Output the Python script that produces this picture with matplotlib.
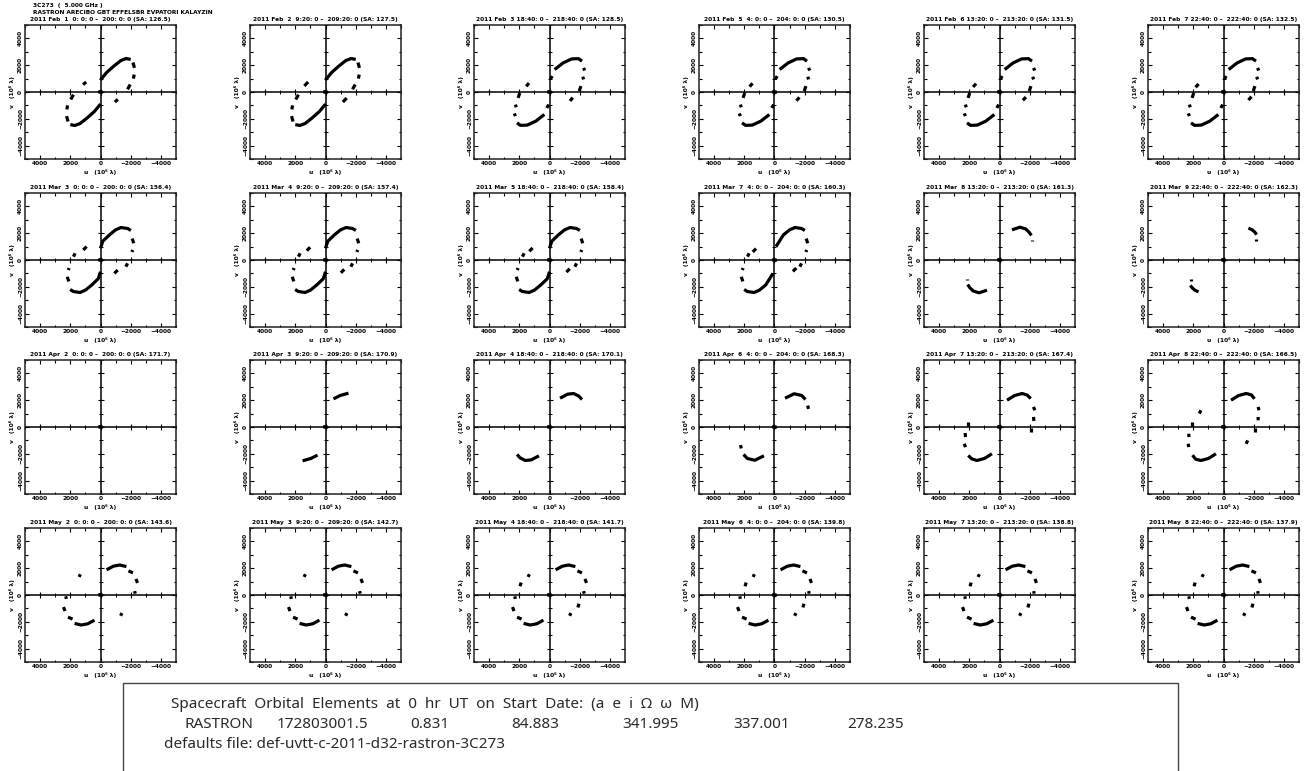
import matplotlib
matplotlib.use("Agg")
import matplotlib.pyplot as plt
from matplotlib.patches import Rectangle

# ---------------------------------------------------------------- header
SOURCE = "3C273"
FREQ_GHZ = 5.000
STATIONS = ["RASTRON", "ARECIBO", "GBT", "EFFELSBR", "EVPATORI", "KALAYZIN"]

# ---------------------------------------------------------------- panel titles
START_DATES = [
    "2011 Feb  1", "2011 Feb  2", "2011 Feb  3", "2011 Feb  5", "2011 Feb  6", "2011 Feb  7",
    "2011 Mar  3", "2011 Mar  4", "2011 Mar  5", "2011 Mar  7", "2011 Mar  8", "2011 Mar  9",
    "2011 Apr  2", "2011 Apr  3", "2011 Apr  4", "2011 Apr  6", "2011 Apr  7", "2011 Apr  8",
    "2011 May  2", "2011 May  3", "2011 May  4", "2011 May  6", "2011 May  7", "2011 May  8",
]
START_TIMES = [" 0: 0: 0", " 9:20: 0", "18:40: 0", " 4: 0: 0", "13:20: 0", "22:40: 0"]
END_TIMES = ["200: 0: 0", "209:20: 0", "218:40: 0", "204: 0: 0", "213:20: 0", "222:40: 0"]
SUN_ANGLES = [
    126.5, 127.5, 128.5, 130.5, 131.5, 132.5,
    156.4, 157.4, 158.4, 160.3, 161.3, 162.3,
    171.7, 170.9, 170.1, 168.3, 167.4, 166.5,
    143.6, 142.7, 141.7, 139.8, 138.8, 137.9,
]

# ---------------------------------------------------------------- orbital elements
SPACECRAFT = "RASTRON"
ELEMENT_NAMES = ["a", "e", "i", "\u03a9", "\u03c9", "M"]
ORBIT_ELEMENTS = ["172803001.5", "0.831", "84.883", "341.995", "337.001", "278.235"]
DEFAULTS_FILE = "def-uvtt-c-2011-d32-rastron-3C273"

# ---------------------------------------------------------------- uv tracks (10^6 lambda)
# Each entry is a visible piece of the space-ground track, (u, v) vertices.
# The conjugate points (-u, -v) are plotted as well.
EARTH_BASELINES = [[(140, 30), (-140, -30)]]

FEB01 = [
    [(0, 900), (-400, 1450), (-900, 1950), (-1350, 2350), (-1700, 2500), (-2000, 2430)],
    [(-2150, 2200), (-2250, 1800)],
    [(-2230, 1300), (-2180, 1000)],
    [(-1970, 560), (-1790, 200)],
    [(-950, -750), (-1150, -550)],
]
FEB02 = [
    [(0, 900), (-400, 1450), (-900, 1950), (-1350, 2350), (-1700, 2500), (-2000, 2430)],
    [(-2150, 2200), (-2250, 1800)],
    [(-2230, 1300), (-2180, 1000)],
    [(-1970, 560), (-1790, 200)],
    [(-1150, -750), (-1400, -450)],
]
FEB03 = [
    [(-50, 940), (-180, 1190)],
    [(-340, 1680), (-900, 2170), (-1470, 2470), (-1920, 2490), (-2150, 2300)],
    [(-2260, 1800), (-2330, 1600)],
    [(-2200, 1140), (-2260, 940)],
    [(-2080, 440), (-1970, 70)],
    [(-1360, -670), (-1540, -420)],
]
FEB05 = [
    [(-50, 940), (-180, 1190)],
    [(-340, 1680), (-900, 2170), (-1470, 2470), (-1920, 2490), (-2150, 2300)],
    [(-2260, 1800), (-2330, 1600)],
    [(-2200, 1140), (-2260, 940)],
    [(-2080, 440), (-1970, 70)],
    [(-1450, -650), (-1650, -400)],
]
FEB06 = [
    [(-50, 940), (-180, 1190)],
    [(-340, 1680), (-900, 2170), (-1470, 2470), (-1920, 2490), (-2150, 2300)],
    [(-2260, 1800), (-2330, 1600)],
    [(-2200, 1140), (-2260, 940)],
    [(-2080, 440), (-1970, 70)],
    [(-1550, -620), (-1750, -380)],
]
FEB07 = [
    [(-50, 940), (-180, 1190)],
    [(-340, 1680), (-900, 2170), (-1470, 2470), (-1920, 2490), (-2150, 2300)],
    [(-2260, 1800), (-2330, 1600)],
    [(-2200, 1140), (-2260, 940)],
    [(-2080, 440), (-1970, 70)],
    [(-1650, -600), (-1850, -350)],
]
MAR03 = [
    [(0, 875), (-150, 1400), (-590, 1875), (-1000, 2250), (-1355, 2425), (-1800, 2350), (-2010, 2200)],
    [(-2100, 1600), (-2200, 1250)],
    [(-2130, 750), (-2080, 600)],
    [(-1790, -250), (-1680, -500)],
    [(-1140, -750), (-920, -1000)],
]
MAR04 = [
    [(0, 875), (-150, 1400), (-590, 1875), (-1000, 2250), (-1355, 2425), (-1800, 2350), (-2010, 2200)],
    [(-2100, 1600), (-2200, 1250)],
    [(-2130, 750), (-2080, 600)],
    [(-1790, -250), (-1680, -500)],
    [(-1240, -700), (-1020, -950)],
]
MAR05 = [
    [(0, 875), (-150, 1400), (-590, 1875), (-1000, 2250), (-1355, 2425), (-1800, 2350), (-2010, 2200)],
    [(-2100, 1600), (-2200, 1250)],
    [(-2130, 750), (-2080, 600)],
    [(-1790, -250), (-1680, -500)],
    [(-1340, -650), (-1120, -900)],
]
MAR07 = [
    [(-100, 1000), (-590, 1875), (-1000, 2250), (-1355, 2425), (-1800, 2350), (-2010, 2200)],
    [(-2100, 1600), (-2200, 1250)],
    [(-2130, 750), (-2080, 600)],
    [(-1790, -250), (-1680, -500)],
    [(-1440, -600), (-1220, -850)],
]
MAR08 = [
    [(-830, 2250), (-1350, 2450), (-1730, 2320), (-1955, 2080), (-2110, 1830)],
    [(-2135, 1500), (-2135, 1400)],
]
MAR09 = [
    [(-1650, 2380), (-1900, 2250), (-2050, 2100), (-2200, 1900)],
    [(-2150, 1550), (-2150, 1400)],
]
APR02 = []
APR03 = [
    [(-530, 2100), (-970, 2350), (-1520, 2525)],
]
APR04 = [
    [(-700, 2150), (-1200, 2450), (-1600, 2500), (-1950, 2300), (-2150, 2050)],
]
APR06 = [
    [(-700, 2150), (-1300, 2480), (-1800, 2350), (-2050, 2050)],
    [(-2200, 1600), (-2250, 1350)],
]
APR07 = [
    [(-500, 2000), (-1000, 2350), (-1500, 2500), (-1840, 2375), (-2070, 2125)],
    [(-2250, 1500), (-2340, 1250)],
    [(-2250, 750), (-2280, 450)],
    [(-2110, -50), (-2110, -375)],
]
APR08 = [
    [(-500, 2000), (-1000, 2350), (-1500, 2500), (-1850, 2400), (-2050, 2100)],
    [(-2300, 1500), (-2340, 1250)],
    [(-2290, 750), (-2300, 500)],
    [(-2110, -50), (-2110, -375)],
    [(-1600, -1000), (-1500, -1250)],
]
MAY02 = [
    [(-400, 1880), (-850, 2150), (-1275, 2240), (-1715, 2120)],
    [(-1850, 1800), (-2150, 1650)],
    [(-2350, 1200), (-2450, 900)],
    [(-2260, 290), (-2300, 100)],
    [(-1420, -1350), (-1330, -1550)],
]
MAY03 = [
    [(-400, 1880), (-850, 2150), (-1275, 2240), (-1715, 2120)],
    [(-1850, 1800), (-2150, 1650)],
    [(-2350, 1200), (-2450, 900)],
    [(-2260, 290), (-2300, 100)],
    [(-1420, -1350), (-1330, -1550)],
]
MAY04 = [
    [(-400, 1880), (-850, 2150), (-1275, 2240), (-1715, 2120)],
    [(-1850, 1800), (-2150, 1650)],
    [(-2350, 1200), (-2450, 900)],
    [(-2260, 290), (-2300, 100)],
    [(-1950, -650), (-1880, -930)],
    [(-1420, -1350), (-1330, -1550)],
]
MAY06 = [
    [(-400, 1880), (-850, 2150), (-1275, 2240), (-1715, 2120)],
    [(-1850, 1800), (-2150, 1650)],
    [(-2350, 1200), (-2450, 900)],
    [(-2260, 290), (-2300, 100)],
    [(-1950, -650), (-1880, -930)],
    [(-1420, -1350), (-1330, -1550)],
]
MAY07 = [
    [(-400, 1880), (-850, 2150), (-1275, 2240), (-1715, 2120)],
    [(-1850, 1800), (-2150, 1650)],
    [(-2350, 1200), (-2450, 900)],
    [(-2260, 290), (-2300, 100)],
    [(-1950, -650), (-1880, -930)],
    [(-1420, -1350), (-1330, -1550)],
]
MAY08 = [
    [(-400, 1880), (-850, 2150), (-1275, 2240), (-1715, 2120)],
    [(-1850, 1800), (-2150, 1650)],
    [(-2350, 1200), (-2450, 900)],
    [(-2260, 290), (-2300, 100)],
    [(-1950, -650), (-1880, -930)],
    [(-1420, -1350), (-1330, -1550)],
]

PANEL_TRACKS = [
    FEB01, FEB02, FEB03, FEB05, FEB06, FEB07,
    MAR03, MAR04, MAR05, MAR07, MAR08, MAR09,
    APR02, APR03, APR04, APR06, APR07, APR08,
    MAY02, MAY03, MAY04, MAY06, MAY07, MAY08,
]

MAJOR_TICKS = [-4000, -2000, 0, 2000, 4000]
MINOR_TICKS = [-5000, -3000, -1000, 1000, 3000, 5000]
LIMIT = 5000

# ---------------------------------------------------------------- figure layout (pixels)
W, H = 1311, 771
COL_LEFT = [25, 250, 474, 699, 924, 1148]
ROW_TOP = [25, 193, 360, 528]
AX_W, AX_H = 151, 134

TINY = dict(fontsize=4.2, fontweight="bold", family="DejaVu Sans")

fig = plt.figure(figsize=(W / 100, H / 100), dpi=100)
fig.patch.set_facecolor("white")


def fmt_tick(t):
    return f"{t:d}".replace("-", "\u2212")


for idx, tracks in enumerate(PANEL_TRACKS):
    r, c = divmod(idx, 6)
    left, top = COL_LEFT[c], ROW_TOP[r]
    ax = fig.add_axes([left / W, 1 - (top + AX_H) / H, AX_W / W, AX_H / H])
    ax.set_xlim(LIMIT, -LIMIT)
    ax.set_ylim(-LIMIT, LIMIT)

    # crosshair through the origin with its own tick marks
    ax.axhline(0, color="black", lw=1.1, zorder=1)
    ax.axvline(0, color="black", lw=1.1, zorder=1)
    ax.plot([0] * len(MAJOR_TICKS), MAJOR_TICKS, ls="none", marker="_",
            ms=5, mew=0.8, color="black", zorder=1)
    ax.plot(MAJOR_TICKS, [0] * len(MAJOR_TICKS), ls="none", marker="|",
            ms=5, mew=0.8, color="black", zorder=1)
    ax.plot([0] * len(MINOR_TICKS), MINOR_TICKS, ls="none", marker="_",
            ms=2.5, mew=0.7, color="black", zorder=1)
    ax.plot(MINOR_TICKS, [0] * len(MINOR_TICKS), ls="none", marker="|",
            ms=2.5, mew=0.7, color="black", zorder=1)

    for seg in EARTH_BASELINES + tracks:
        us = [p[0] for p in seg]
        vs = [p[1] for p in seg]
        ax.plot(us, vs, color="black", lw=2.3, solid_capstyle="butt", zorder=3)
        ax.plot([-x for x in us], [-y for y in vs], color="black", lw=2.3,
                solid_capstyle="butt", zorder=3)

    ax.set_xticks(MAJOR_TICKS)
    ax.set_yticks(MAJOR_TICKS)
    ax.set_xticks(MINOR_TICKS, minor=True)
    ax.set_yticks(MINOR_TICKS, minor=True)
    ax.set_xticklabels([fmt_tick(t) for t in MAJOR_TICKS], **TINY)
    ax.set_yticklabels([fmt_tick(t) for t in MAJOR_TICKS], rotation=90,
                       va="center", **TINY)
    ax.tick_params(which="both", direction="in", top=True, right=True,
                   width=0.8, pad=1.5)
    ax.tick_params(which="major", length=3.2)
    ax.tick_params(which="minor", length=1.8)
    for sp in ax.spines.values():
        sp.set_linewidth(1.1)
        sp.set_color("#222222")

    ax.set_xlabel("u   (10\u2076 \u03bb)", labelpad=2, **TINY)
    ax.set_ylabel("v   (10\u2076 \u03bb)", labelpad=2, **TINY)

    title = (f"{START_DATES[idx]} {START_TIMES[c]} \u2013  {END_TIMES[c]} "
             f"(SA: {SUN_ANGLES[idx]:.1f})")
    ax.set_title(title, pad=3, **TINY)

# header lines above the first panel
fig.text(33 / W, 1 - 6 / H, f"{SOURCE}  (  {FREQ_GHZ:.3f} GHz )", va="center", **TINY)
fig.text(33 / W, 1 - 13 / H, " ".join(STATIONS), va="center", **TINY)

# orbital-element box at the bottom
fig.add_artist(Rectangle((123 / W, -0.02), (1178 - 123) / W, (771 - 683) / H + 0.02,
                         transform=fig.transFigure, fill=False,
                         edgecolor="#444444", lw=1.0))
BOX = dict(fontsize=11, color="#2a2a2a", family="Noto Sans", va="center")
heading = "  ".join("Spacecraft Orbital Elements at 0 hr UT on Start Date:".split())
fig.text(171 / W, 1 - 705 / H,
         heading + "  (" + "  ".join(ELEMENT_NAMES) + ")", **BOX)
fig.text(185 / W, 1 - 725 / H, SPACECRAFT, **BOX)
for x0, val in zip([277, 410, 511, 622, 733, 847], ORBIT_ELEMENTS):
    fig.text(x0 / W, 1 - 725 / H, val, **BOX)
fig.text(164 / W, 1 - 745 / H, f"defaults file: {DEFAULTS_FILE}", **BOX)

fig.savefig("out.png", dpi=100, facecolor="white")
